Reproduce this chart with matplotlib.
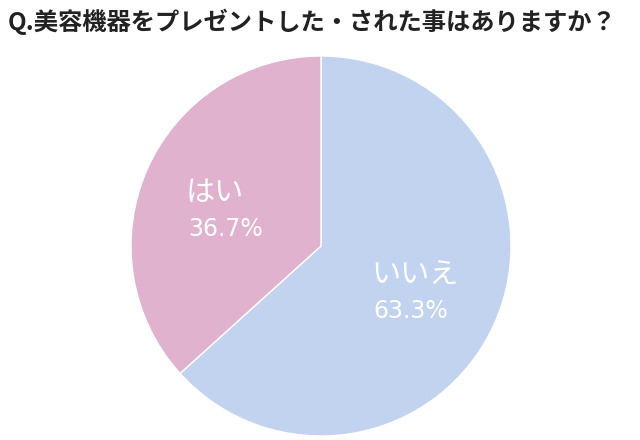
import matplotlib.pyplot as plt

plt.rcParams['font.family'] = ['Noto Sans CJK JP', 'DejaVu Sans']

labels = ['いいえ', 'はい']
values = [63.3, 36.7]
colors = ['#c2d3ef', '#e1b2ce']
# left edge x, name y, percent y (axes data units, radius = 1)
label_pos = [(0.265, -0.158, -0.342), (-0.71, 0.279, 0.089)]

dpi = 100
fig = plt.figure(dpi=dpi, figsize=(640 / dpi, 440 / dpi))
ax = fig.add_axes([131 / 640, 4 / 440, 380 / 640, 380 / 440])

ax.pie(values, colors=colors, startangle=90, counterclock=False, radius=1,
       wedgeprops=dict(edgecolor='white', linewidth=1))

for lab, val, (x, y1, y2) in zip(labels, values, label_pos):
    ax.text(x, y1, lab, ha='left', va='center', color='white', fontsize=21)
    ax.text(x + 0.01, y2, f'{val:.1f}%', ha='left', va='center', color='white',
            fontsize=17, family=['DejaVu Sans', 'Noto Sans CJK JP'])

ax.set_xlim(-1, 1)
ax.set_ylim(-1, 1)
ax.set_aspect('equal')
ax.axis('off')

fig.text(8 / 640, 1 - 22 / 440, 'Q.美容機器をプレゼントした・された事はありますか？',
         ha='left', va='center', fontsize=17.5, fontweight='bold', color='#222222')

fig.savefig('out.png', dpi=dpi)
